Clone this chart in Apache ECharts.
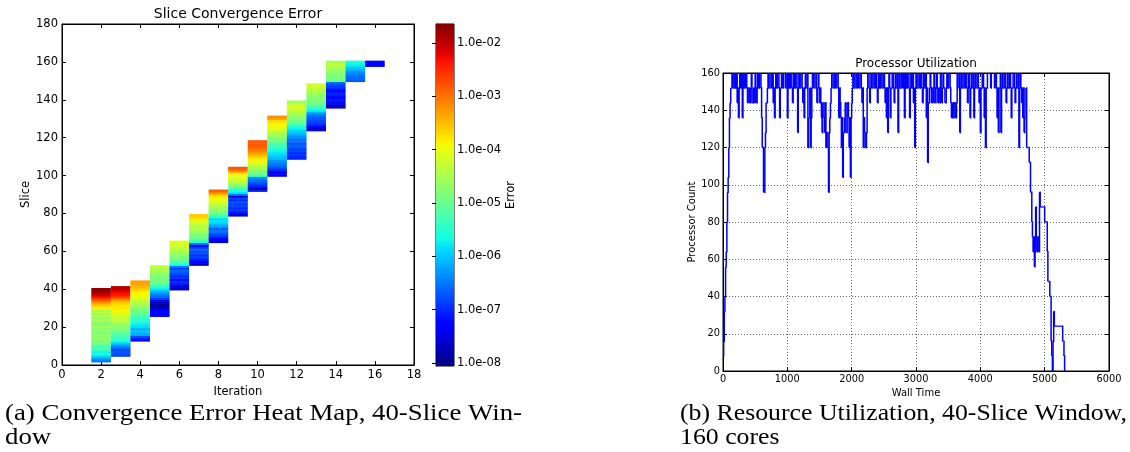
<!DOCTYPE html>
<html><head><meta charset="utf-8">
<script src="https://cdn.jsdelivr.net/npm/echarts@6/dist/echarts.min.js"></script>
<style>html,body{margin:0;padding:0;background:#fff}#c{width:1130px;height:452px}</style>
</head><body><div id="c"></div>
<script>
// ---------- Heat map data (log10 of error per slice, listed from first slice upward) ----------
const iterations = [2,3,4,5,6,7,8,9,10,11,12,13,14,15,16];
const firstSlice = [2,5,13,26,40,53,65,79,92,100,109,124,136,150,158];
const err02 = [-6.5,-6.4,-6.1,-5.8,-5.6,-5.7,-5.4,-5.2,-5.3,-5.0,
  -4.8,-4.9,-4.6,-4.8,-4.7,-4.9,-4.6,-4.8,-4.5,-4.7,
  -4.9,-4.6,-4.5,-4.7,-4.4,-4.6,-4.3,-4.5,-3.9,-3.7,
  -3.5,-3.2,-2.9,-2.6,-2.3,-2.1,-1.9,-1.8,-1.7];
const err03 = [-6.9,-6.8,-6.7,-6.8,-6.6,-6.4,-6.1,-5.8,-5.5,-5.4,
  -5.3,-5.2,-5.1,-4.9,-4.8,-4.7,-4.7,-4.6,-4.4,-4.3,
  -4.3,-4.2,-4.2,-3.9,-3.9,-3.8,-3.8,-3.7,-3.6,-3.3,
  -3.0,-2.6,-2.4,-2.3,-2.2,-2.0,-1.9];
const err04 = [-7.2,-7.1,-6.8,-6.2,-6.1,-6.0,-6.2,-5.9,-5.8,-5.7,
  -5.5,-5.6,-5.4,-5.3,-5.1,-5.0,-4.9,-4.8,-4.6,-4.5,
  -4.4,-4.3,-4.1,-4.0,-3.9,-3.9,-3.8,-3.6,-3.5,-3.4,
  -3.3,-3.3];
const err05 = [-7.2,-7.3,-7.2,-7.3,-7.6,-7.8,-7.9,-7.7,-7.5,-6.9,
  -6.6,-6.5,-6.3,-6.1,-5.8,-5.6,-5.4,-5.1,-5.0,-4.9,
  -4.8,-4.9,-4.7,-4.6,-4.5,-4.4,-4.3];
const err06 = [-7.7,-7.6,-7.4,-7.1,-7.0,-7.2,-6.9,-7.0,-6.8,-6.7,
  -6.6,-6.9,-6.5,-5.6,-5.3,-5.1,-4.9,-4.8,-4.7,-4.6,
  -4.5,-4.4,-4.3,-4.2,-4.2,-4.1];
const err07 = [-7.7,-7.4,-7.2,-7.0,-6.8,-7.0,-6.7,-6.8,-6.6,-6.9,
  -7.4,-6.6,-5.6,-5.3,-5.0,-4.9,-4.8,-4.6,-4.5,-4.4,
  -4.5,-4.3,-4.2,-4.0,-3.8,-3.7,-3.6];
const err08 = [-7.6,-7.4,-7.2,-6.9,-6.8,-6.6,-6.5,-6.7,-6.3,-6.1,
  -5.9,-5.8,-5.9,-5.6,-5.3,-5.0,-4.9,-4.7,-4.6,-4.5,
  -4.3,-4.2,-4.0,-3.9,-3.8,-3.5,-3.1,-2.9];
const err09 = [-7.7,-7.3,-7.1,-6.9,-7.0,-6.8,-6.9,-6.7,-7.0,-6.8,
  -7.6,-6.5,-5.8,-5.6,-5.3,-5.0,-4.7,-4.5,-4.3,-4.2,
  -4.1,-4.0,-3.8,-3.4,-3.0,-2.8];
const err10 = [-7.0,-7.8,-7.1,-6.9,-6.8,-6.6,-6.5,-6.3,-5.3,-5.0,
  -4.9,-4.7,-4.5,-4.4,-4.2,-4.1,-3.9,-3.8,-3.6,-3.4,
  -3.3,-3.1,-3.0,-2.9,-2.8,-2.9,-2.8];
const err11 = [-7.4,-7.2,-7.5,-7.0,-6.8,-6.6,-6.5,-6.4,-6.3,-6.1,
  -6.0,-5.9,-5.8,-5.7,-5.5,-5.4,-5.3,-5.2,-5.0,-4.9,
  -4.8,-4.6,-4.5,-4.4,-4.2,-4.0,-3.9,-3.9,-3.8,-3.7,
  -3.3,-3.2];
const err12 = [-7.1,-7.0,-6.9,-7.0,-6.8,-6.9,-6.7,-6.6,-6.8,-6.5,
  -6.6,-6.4,-6.3,-6.1,-6.0,-5.9,-5.7,-5.5,-5.3,-5.0,
  -4.9,-4.8,-4.7,-4.6,-4.5,-4.3,-4.2,-4.2,-4.1,-4.3,
  -4.6];
const err13 = [-7.3,-7.7,-7.2,-7.0,-6.9,-6.8,-6.7,-6.6,-6.5,-6.3,
  -5.8,-5.6,-5.4,-5.2,-5.0,-4.9,-4.8,-4.7,-4.8,-4.6,
  -4.5,-4.4,-4.3,-4.2,-4.2];
const err14 = [-7.6,-7.8,-7.4,-7.2,-7.1,-7.3,-7.2,-7.0,-7.1,-7.3,
  -7.0,-6.9,-6.8,-6.6,-5.0,-4.9,-4.8,-4.9,-4.7,-4.8,
  -4.6,-4.5,-4.4,-4.4,-4.5];
const err15 = [-6.7,-6.6,-6.6,-6.5,-6.4,-6.3,-6.1,-6.0,-5.8,-5.7,-5.6];
const err16 = [-7.4,-7.3,-7.3];
const errorColumns = [err02,err03,err04,err05,err06,err07,err08,err09,err10,err11,err12,err13,err14,err15,err16];

// colour bar (log10 error)
const errorTickExponents = [-8,-7,-6,-5,-4,-3,-2];
const colorbarRange = [-8.06, -1.64];

// ---------- Processor utilization (one reading every 10 s of wall time) ----------
const sampleStep = 10;
const processorCount = [
  8,16,32,40,56,64,80,96,104,120,136,144,152,152,160,152,152,160,152,160,
  152,160,144,152,136,152,160,152,152,160,136,152,160,152,152,160,160,152,144,152,
  152,144,144,152,160,144,144,152,152,144,160,152,144,152,160,152,152,160,160,152,
  136,120,120,96,96,120,128,144,144,152,160,152,152,160,160,152,152,160,144,152,
  136,152,160,152,152,160,160,152,136,152,152,160,160,152,160,160,160,152,160,160,
  136,152,160,152,152,160,160,152,144,152,160,152,152,160,160,152,128,152,160,152,
  152,160,160,152,144,152,136,152,160,152,152,160,120,136,136,152,120,136,152,160,
  160,152,152,160,160,152,144,152,160,152,144,152,144,136,128,144,144,136,128,144,
  120,128,128,120,96,128,136,144,152,160,160,152,152,160,160,152,152,160,160,152,
  136,152,144,136,120,136,104,128,128,136,144,128,128,144,144,136,120,136,104,136,
  144,152,160,152,152,160,160,152,152,160,160,152,152,160,160,152,144,152,120,136,
  128,120,120,128,152,160,160,152,144,152,160,152,152,160,160,152,152,160,160,152,
  144,152,160,152,152,160,160,152,152,160,160,152,144,152,136,152,128,152,160,152,
  136,152,152,160,160,152,144,152,160,152,152,160,128,152,160,152,152,160,160,152,
  152,160,136,152,160,152,152,160,160,152,136,152,160,152,152,160,144,152,120,152,
  160,152,152,160,160,152,152,160,160,152,144,152,160,152,152,160,136,152,112,144,
  144,152,160,152,144,152,152,144,160,152,144,152,160,152,144,152,152,144,160,152,
  144,152,160,152,152,144,144,152,160,152,152,160,160,152,144,136,136,144,136,144,
  144,136,136,144,160,152,152,160,128,152,160,152,152,160,160,152,152,160,160,152,
  144,152,160,152,136,152,160,152,152,160,136,152,160,152,152,160,160,152,144,152,
  128,152,152,160,160,152,136,152,120,152,152,160,160,160,160,160,152,160,160,160,
  160,160,152,160,160,152,136,152,128,152,152,160,128,152,160,152,152,160,160,152,
  144,152,160,152,152,160,160,152,136,152,152,160,160,152,144,152,160,152,152,160,
  120,152,160,152,144,152,136,152,128,136,136,152,120,120,120,120,112,112,96,96,
  80,72,64,72,56,64,88,72,64,72,72,64,96,88,88,88,88,88,88,88,
  80,80,80,80,64,48,48,48,40,40,16,8,0,16,32,24,24,24,24,24,
  24,24,24,24,24,24,24,24,16,16,8,0,0];

// ---------- colormap (matplotlib "jet") ----------
const jetSeg = {
  r: [[0,0],[0.35,0],[0.66,1],[0.89,1],[1,0.5]],
  g: [[0,0],[0.125,0],[0.375,1],[0.64,1],[0.91,0],[1,0]],
  b: [[0,0.5],[0.11,1],[0.34,1],[0.65,0],[1,0]]
};
function segVal(s, f) {
  for (let i = 1; i < s.length; i++) {
    if (f <= s[i][0]) {
      const a = s[i-1], b = s[i];
      return a[1] + (b[1]-a[1]) * (f-a[0]) / (b[0]-a[0]);
    }
  }
  return s[s.length-1][1];
}
function jet(f) {
  const c = k => Math.round(255 * segVal(jetSeg[k], f));
  return 'rgb(' + c('r') + ',' + c('g') + ',' + c('b') + ')';
}
const N = 64;
const jetColors = [];
for (let i = 0; i <= N; i++) jetColors.push(jet(i / N));

// ---------- build series data ----------
const heatData = [];
iterations.forEach((it, k) => {
  errorColumns[k].forEach((e, j) => heatData.push([it, firstSlice[k] + j, e]));
});
// each step of the utilization trace: [t, count, next t, next count]
const utilSteps = [];
for (let i = 0; i + 1 < processorCount.length; i++) {
  utilSteps.push([i * sampleStep, processorCount[i], (i + 1) * sampleStep, processorCount[i + 1]]);
}

const FONT = 'DejaVu Sans';
const black = '#000';

function renderCell(params, api) {
  const it = api.value(0), s = api.value(1);
  const p0 = api.coord([it - 0.5, s + 0.5]);
  const p1 = api.coord([it + 0.5, s - 0.5]);
  return {
    type: 'rect',
    shape: { x: p0[0], y: p0[1] - 0.3, width: p1[0] - p0[0], height: p1[1] - p0[1] + 0.6 },
    style: { fill: api.visual('color') }
  };
}
function renderColorbar(params, api) {
  const p0 = api.coord([0, api.value(2)]);
  const p1 = api.coord([1, api.value(1)]);
  const stops = jetColors.map((c, i) => ({ offset: i / N, color: jetColors[N - i] }));
  return {
    type: 'rect',
    shape: { x: p0[0], y: p0[1], width: p1[0] - p0[0], height: p1[1] - p0[1] },
    style: { fill: { type: 'linear', x: 0, y: 0, x2: 0, y2: 1, colorStops: stops } }
  };
}
function renderStep(params, api) {
  const a = api.coord([api.value(0), api.value(1)]);
  const b = api.coord([api.value(2), api.value(1)]);
  const c = api.coord([api.value(2), api.value(3)]);
  return {
    type: 'polyline',
    shape: { points: [a, b, c] },
    style: { stroke: '#0000ff', lineWidth: 1.5, fill: null },
    silent: true
  };
}

function frameAxis(base, extra) { return Object.assign({}, base, extra); }

const tickStyle = { show: true, inside: true, length: 4, lineStyle: { color: black, width: 1 } };
const hiddenLabel = { show: false };
const plain = v => String(v);

const heatX = { gridIndex: 0, type: 'value', min: 0, max: 18, interval: 2,
  axisLine: { show: true, onZero: false, lineStyle: { color: black } },
  axisTick: tickStyle, splitLine: { show: false } };
const heatY = { gridIndex: 0, type: 'value', min: 0, max: 180, interval: 20,
  axisLine: { show: true, onZero: false, lineStyle: { color: black } },
  axisTick: tickStyle, splitLine: { show: false } };

const gridLine = { show: true, lineStyle: { color: '#666', type: [1, 2], width: 1 } };
const utilX = { gridIndex: 2, type: 'value', min: 0, max: 6000, interval: 1000,
  axisLine: { show: true, onZero: false, lineStyle: { color: black } },
  axisTick: tickStyle };
const utilY = { gridIndex: 2, type: 'value', min: 0, max: 160, interval: 20,
  axisLine: { show: true, onZero: false, lineStyle: { color: black } },
  axisTick: tickStyle };

// caption fitting (serif captions are scaled horizontally to the reference line widths)
const CAP_FONT = '23px "Liberation Serif"';
function fitScale(text, target) {
  const ctx = document.createElement('canvas').getContext('2d');
  ctx.font = CAP_FONT;
  return target / ctx.measureText(text).width;
}
const capA1 = '(a) Convergence Error Heat Map, 40-Slice Win-';
const capB1 = '(b) Resource Utilization, 40-Slice Window,';
const sA = fitScale(capA1, 517);
const sB = fitScale(capB1, 447);

const chart = echarts.init(document.getElementById('c'), null, { renderer: 'canvas' });
chart.setOption({
  animation: false,
  backgroundColor: '#fff',
  textStyle: { fontFamily: FONT },
  grid: [
    { left: 62, top: 24, width: 352, height: 341, show: true, borderColor: black, borderWidth: 1, backgroundColor: 'transparent' },
    { left: 436, top: 24, width: 18, height: 342, show: true, borderColor: black, borderWidth: 1, backgroundColor: 'transparent' },
    { left: 723, top: 73, width: 386, height: 298, show: true, borderColor: black, borderWidth: 1, backgroundColor: 'transparent' }
  ],
  xAxis: [
    frameAxis(heatX, { position: 'bottom', name: 'Iteration', nameLocation: 'middle', nameGap: 14,
      nameTextStyle: { fontSize: 11.5, color: black, fontFamily: FONT },
      axisLabel: { fontSize: 11.5, color: black, margin: 4, fontFamily: FONT, formatter: plain } }),
    frameAxis(heatX, { position: 'top', axisLabel: hiddenLabel }),
    { gridIndex: 1, type: 'value', min: 0, max: 1, show: false },
    frameAxis(utilX, { position: 'bottom', name: 'Wall Time', nameLocation: 'middle', nameGap: 11,
      nameTextStyle: { fontSize: 10, color: black, fontFamily: FONT },
      axisLabel: { fontSize: 9.8, color: black, margin: 3, fontFamily: FONT, formatter: plain },
      splitLine: gridLine }),
    frameAxis(utilX, { position: 'top', axisLabel: hiddenLabel, splitLine: { show: false } })
  ],
  yAxis: [
    frameAxis(heatY, { position: 'left', name: 'Slice', nameLocation: 'middle', nameGap: 25, nameRotate: 90,
      nameTextStyle: { fontSize: 11.5, color: black, fontFamily: FONT },
      axisLabel: { fontSize: 11.5, color: black, margin: 4, fontFamily: FONT, formatter: plain } }),
    frameAxis(heatY, { position: 'right', axisLabel: hiddenLabel }),
    { gridIndex: 1, type: 'value', position: 'right', min: colorbarRange[0], max: colorbarRange[1],
      axisLine: { show: true, lineStyle: { color: black } },
      axisTick: { show: true, inside: true, length: 4, customValues: errorTickExponents, lineStyle: { color: black } },
      axisLabel: { customValues: errorTickExponents, fontSize: 11.5, color: black, margin: 3, fontFamily: FONT,
        formatter: v => '1.0e-' + String(Math.round(-v)).padStart(2, '0') },
      splitLine: { show: false },
      name: 'Error', nameLocation: 'middle', nameGap: 49, nameRotate: 90,
      nameTextStyle: { fontSize: 11.5, color: black, fontFamily: FONT } },
    frameAxis(utilY, { position: 'left', name: 'Processor Count', nameLocation: 'middle', nameGap: 25, nameRotate: 90,
      nameTextStyle: { fontSize: 10, color: black, fontFamily: FONT },
      axisLabel: { fontSize: 9.8, color: black, margin: 3, fontFamily: FONT, formatter: plain },
      splitLine: gridLine }),
    frameAxis(utilY, { position: 'right', axisLabel: hiddenLabel, splitLine: { show: false } })
  ],
  visualMap: [{
    type: 'continuous', show: false, seriesIndex: 0, dimension: 2,
    min: colorbarRange[0], max: colorbarRange[1],
    inRange: { color: jetColors }
  }],
  series: [
    { type: 'custom', name: 'Error', xAxisIndex: 0, yAxisIndex: 0, renderItem: renderCell,
      encode: { x: 0, y: 1 }, data: heatData, clip: true, silent: true },
    { type: 'custom', name: 'Colorbar', xAxisIndex: 2, yAxisIndex: 2, renderItem: renderColorbar,
      encode: { x: 0, y: 1 }, data: [[0, colorbarRange[0], colorbarRange[1]]], silent: true, z: 1 },
    { type: 'custom', name: 'Processor Count', xAxisIndex: 3, yAxisIndex: 3, renderItem: renderStep,
      encode: { x: [0, 2], y: [1, 3] }, data: utilSteps, clip: true, silent: true, z: 3 }
  ],
  graphic: [
    { type: 'text', x: 238, y: 14, style: { text: 'Slice Convergence Error', font: '14px "DejaVu Sans"', fill: black, textAlign: 'center', textVerticalAlign: 'middle' } },
    { type: 'text', x: 916, y: 64, style: { text: 'Processor Utilization', font: '12px "DejaVu Sans"', fill: black, textAlign: 'center', textVerticalAlign: 'middle' } },
    { type: 'text', x: 5, y: 414, scaleX: sA, style: { text: capA1, font: CAP_FONT, fill: black, textAlign: 'left', textVerticalAlign: 'middle' } },
    { type: 'text', x: 5, y: 438, scaleX: sA, style: { text: 'dow', font: CAP_FONT, fill: black, textAlign: 'left', textVerticalAlign: 'middle' } },
    { type: 'text', x: 680, y: 414, scaleX: sB, style: { text: capB1, font: CAP_FONT, fill: black, textAlign: 'left', textVerticalAlign: 'middle' } },
    { type: 'text', x: 680, y: 438, scaleX: sB, style: { text: '160 cores', font: CAP_FONT, fill: black, textAlign: 'left', textVerticalAlign: 'middle' } }
  ]
});
</script>
</body></html>
